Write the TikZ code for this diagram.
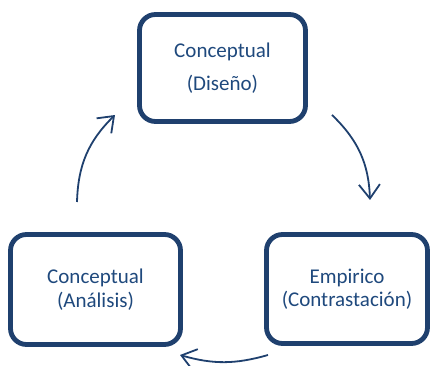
\documentclass[tikz,border=0pt]{standalone}
\usepackage{fontspec}
\setmainfont{Carlito}
\usetikzlibrary{arrows.meta}
\definecolor{boxblue}{RGB}{31,64,110}
\definecolor{txtblue}{RGB}{31,73,125}
\begin{document}
\begin{tikzpicture}[x=1pt,y=1pt,
  cbox/.style={draw=boxblue, line width=4.8pt, rounded corners=16pt, fill=white,
    align=center, text=txtblue, font=\fontsize{21}{23.5}\selectfont, inner sep=0pt},
  cyc/.style={draw=boxblue, line width=1.8pt, -{Straight Barb[length=14pt,width=21pt,line width=1.8pt]}}]
\useasboundingbox (0,0) rectangle (432,366);
\node[cbox, minimum width=166pt, minimum height=107pt] (dis) at (222.5,298) {Conceptual\\[9.5pt](Diseño)};
\node[cbox, minimum width=170pt, minimum height=110pt] (ana) at (95.5,76.5) {Conceptual\\(Análisis)};
\node[cbox, minimum width=161pt, minimum height=109pt] (emp) at (347,77) {Empirico\\(Contrastación)};
\coordinate (a1s) at (332,251);
\coordinate (a1e) at (370,166);
\coordinate (a2s) at (268,11);
\coordinate (a2e) at (180,11);
\coordinate (a3s) at (77,164);
\coordinate (a3e) at (115,251);
\draw[cyc] (a1s) to[bend left=22] (a1e);
\draw[cyc] (a2s) to[bend left=16] (a2e);
\draw[cyc] (a3s) to[bend left=22] (a3e);
\end{tikzpicture}
\end{document}
